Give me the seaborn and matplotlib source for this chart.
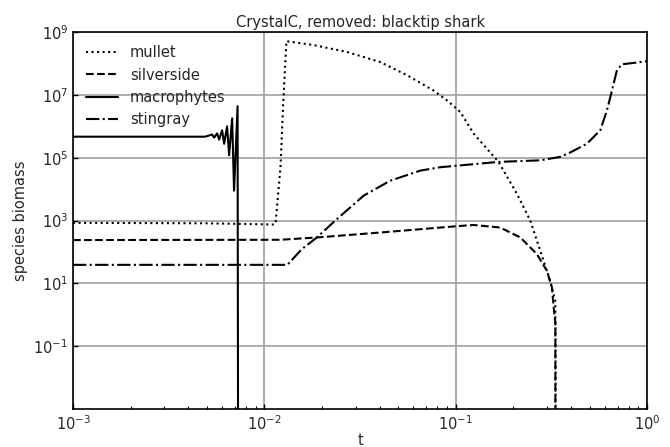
import numpy as np
import pandas as pd
import matplotlib
matplotlib.use("Agg")
import matplotlib.pyplot as plt
import seaborn as sns

# ---- data ----
mullet_t = [1e-3, 0.005, 0.01114, 0.01143, 0.01213, 0.01256, 0.01303, 0.01349, 0.01803,
            0.02698, 0.04027, 0.05546, 0.07638, 0.08974, 0.1054, 0.1239, 0.1671, 0.2084,
            0.2449, 0.2761, 0.3112, 0.3311, 0.3319, 0.3325, 1.0]
mullet_v = [8.5e2, 8.2e2, 7.5e2, 8e2, 5e4, 6.8e6, 5.2e8, 5.0e8, 3.9e8,
            2.35e8, 1.12e8, 4.3e7, 1.4e7, 6.8e6, 2.9e6, 5.9e5, 7.4e4, 7.2e3,
            1.0e3, 1.1e2, 12, 2.75, 0.05, 1e-6, 1e-6]

silver_t = [1e-3, 0.01208, 0.01879, 0.04027, 0.08279, 0.1054, 0.1239, 0.1706, 0.2173,
            0.2655, 0.2992, 0.3177, 0.3273, 0.3311, 0.3315, 1.0]
silver_v = [2.4e2, 2.45e2, 2.9e2, 4.17e2, 6.0e2, 6.76e2, 7.24e2, 6.0e2, 2.9e2,
            85, 25, 7.4, 1.0, 0.6, 1e-6, 1e-6]

macro_t = [1e-3, 0.00490, 0.00533, 0.00546, 0.00566, 0.00580, 0.00601, 0.00616, 0.00638,
           0.00654, 0.00678, 0.00694, 0.00724, 0.00729, 1.0]
macro_v = [4.7e5, 4.7e5, 5.5e5, 4.4e5, 6e5, 3.8e5, 7.5e5, 2.8e5, 1e6,
           1.2e5, 1.8e6, 9e3, 4.4e6, 1e-6, 1e-6]

sting_t = [1e-3, 0.01318, 0.01567, 0.01879, 0.02344, 0.03296, 0.04539, 0.06516, 0.08279,
           0.1014, 0.1671, 0.2761, 0.3516, 0.398, 0.4842, 0.5689, 0.6166, 0.6546,
           0.6950, 0.7379, 0.8492, 1.0]
sting_v = [39, 39, 123, 290, 1000, 6.2e3, 1.86e4, 3.9e4, 5.0e4,
           5.6e4, 7.4e4, 8.3e4, 1.07e5, 1.5e5, 2.8e5, 7.6e5, 3.3e6, 1.4e7,
           6.2e7, 9.5e7, 1.05e8, 1.2e8]

names = ["mullet", "silverside", "macrophytes", "stingray"]
styles = [":", "--", "-", "-."]

series = [(mullet_t, mullet_v), (silver_t, silver_v), (macro_t, macro_v), (sting_t, sting_v)]

sns.set_style("ticks")
plt.rcParams["font.family"] = ["DejaVu Sans"]

fig = plt.figure(figsize=(6.7, 4.47), dpi=100)
ax = fig.add_axes([0.109, 0.085, 0.857, 0.843])

for (t, v), name, ls in zip(series, names, styles):
    df = pd.DataFrame({"t": t, "v": v})
    sns.lineplot(data=df, x="t", y="v", ax=ax, color="black", linestyle=ls,
                 linewidth=1.5, sort=False, estimator=None, label=name)

ax.set_xscale("log")
ax.set_yscale("log")
ax.set_xlim(1e-3, 1e0)
ax.set_ylim(1e-3, 1e9)
ax.set_yticks([1e-1, 1e1, 1e3, 1e5, 1e7, 1e9])
ax.grid(True, which="major", color="#a0a0a0", linewidth=1.2)
ax.set_axisbelow(True)
ax.tick_params(which="major", direction="in", length=3.5, width=1, labelsize=10.5, color="black")
ax.tick_params(which="minor", direction="in", length=2, width=0.8, color="black")
for s in ax.spines.values():
    s.set_visible(True)
    s.set_color("black")
    s.set_linewidth(1.2)

ax.set_title("CrystalC, removed: blacktip shark", fontsize=10.5, pad=4)
ax.set_xlabel("t", fontsize=10.5, labelpad=0)
ax.set_ylabel("species biomass", fontsize=10.5)
ax.legend(loc="upper left", frameon=False, fontsize=10.5, handlelength=2.2)

fig.savefig("out.png", dpi=100)
